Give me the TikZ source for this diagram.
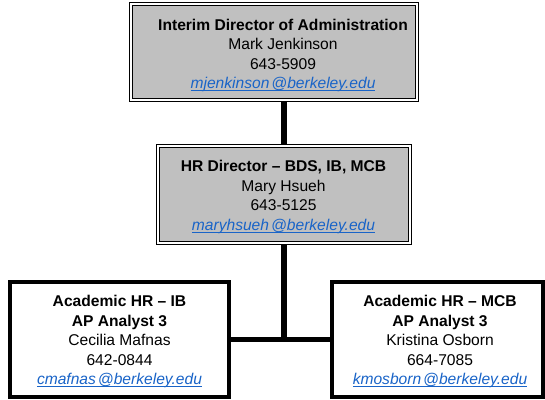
\documentclass[tikz,border=0pt]{standalone}
\usepackage{fontspec}
\setmainfont{Liberation Sans}
\usetikzlibrary{backgrounds}
\definecolor{boxgray}{RGB}{192,192,192}
\definecolor{linkblue}{RGB}{25,100,200}
\newcommand{\emailtext}[2]{{\color{linkblue}\setbox0\hbox{\itshape #1\hspace{2pt}@#2}\rlap{\rule[-2.2pt]{\wd0}{0.9pt}}\box0}}
\begin{document}
\begin{tikzpicture}[x=1pt,y=-1pt,
  graybox/.style={draw=black, line width=1.2pt, double=white, double distance=1.6pt,
    fill=boxgray, inner sep=0pt, outer sep=0pt},
  whitebox/.style={draw=black, line width=4pt, fill=white, inner sep=0pt, outer sep=0pt},
  txt/.style={align=center, inner sep=0pt, anchor=north, font=\fontsize{15.6}{19.5}\selectfont},
  conn/.style={draw=black, line width=6pt}]
\useasboundingbox (0,0) rectangle (545,399);
% boxes
\node[graybox, minimum width=286pt, minimum height=96pt] (top) at (274,52) {};
\node[graybox, minimum width=252pt, minimum height=97pt] (mid) at (284,194.5) {};
\node[whitebox, minimum width=219pt, minimum height=115pt] (left) at (119.5,339.5) {};
\node[whitebox, minimum width=211pt, minimum height=115pt] (right) at (437.5,339.5) {};
% texts
\node[txt] (toptxt) at (283,18.6) {\textbf{Interim Director of Administration}\\Mark Jenkinson\\643-5909\\\emailtext{mjenkinson}{berkeley.edu}};
\node[txt] (midtxt) at (283.5,160.3) {\textbf{HR Director -- BDS, IB, MCB}\\Mary Hsueh\\643-5125\\\emailtext{maryhsueh}{berkeley.edu}};
\node[txt] (lefttxt) at (119.5,295.3) {\textbf{Academic HR -- IB}\\\textbf{AP Analyst 3}\\Cecilia Mafnas\\642-0844\\\emailtext{cmafnas}{berkeley.edu}};
\node[txt] (righttxt) at (440,295.3) {\textbf{Academic HR -- MCB}\\\textbf{AP Analyst 3}\\Kristina Osborn\\664-7085\\\emailtext{kmosborn}{berkeley.edu}};
% connectors
\begin{scope}[on background layer]
\draw[conn] (mid.north) -- (mid.north |- top.south);
\draw[conn] (mid.south) -- (mid.south |- left.east);
\draw[conn, line width=5pt] (left.east) -- (right.west);
\end{scope}
\end{tikzpicture}
\end{document}
